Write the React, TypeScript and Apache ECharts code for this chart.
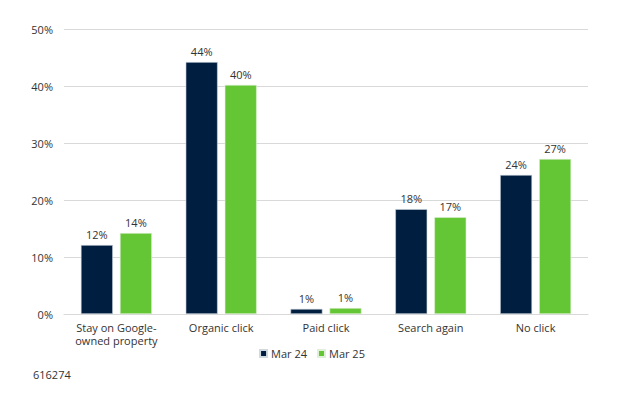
import React, { useEffect, useRef } from 'react';
import * as echarts from 'echarts';

const categories = [
  'Stay on Google-\nowned property',
  'Organic click',
  'Paid click',
  'Search again',
  'No click'
];
const mar24 = [12.1, 44.2, 0.9, 18.4, 24.4];
const mar25 = [14.2, 40.2, 1.05, 17.0, 27.2];
const mar24Labels = ['12%', '44%', '1%', '18%', '24%'];
const mar25Labels = ['14%', '40%', '1%', '17%', '27%'];

const FONT = '"Open Sans", "Noto Sans", sans-serif';
const TEXT = '#333333';

const App: React.FC = () => {
  const chartRef = useRef<HTMLDivElement>(null);

  useEffect(() => {
    document.body.style.margin = '0';
    if (!chartRef.current) return;
    const chart = echarts.init(chartRef.current, null, { renderer: 'svg' });

    const labelFor = (labels: string[]) => ({
      show: true,
      position: 'top',
      distance: 5,
      color: TEXT,
      fontSize: 11,
      fontFamily: FONT,
      formatter: (p: any) => labels[p.dataIndex]
    });

    chart.setOption({
      animation: false,
      textStyle: { fontFamily: FONT },
      grid: { left: 64, right: 36, top: 29, bottom: 91 },
      legend: {
        top: 348,
        left: 'center',
        padding: 0,
        itemWidth: 7,
        itemHeight: 7,
        itemGap: 10,
        icon: 'rect',
        textStyle: { color: TEXT, fontSize: 11, fontFamily: FONT, padding: [0, 0, 0, -1] },
        data: ['Mar 24', 'Mar 25']
      },
      xAxis: {
        type: 'category',
        data: categories,
        axisLine: { show: true, lineStyle: { color: '#d9d9d9' } },
        axisTick: { show: false },
        axisLabel: {
          color: TEXT,
          fontSize: 11,
          fontFamily: FONT,
          margin: 7,
          lineHeight: 13,
          interval: 0
        }
      },
      yAxis: {
        type: 'value',
        min: 0,
        max: 50,
        interval: 10,
        axisLine: { show: false },
        axisTick: { show: false },
        splitLine: { lineStyle: { color: '#d9d9d9' } },
        axisLabel: {
          color: TEXT,
          fontSize: 11,
          fontFamily: FONT,
          margin: 11,
          formatter: '{value}%'
        }
      },
      series: [
        {
          name: 'Mar 24',
          type: 'bar',
          data: mar24,
          barWidth: 32,
          barGap: '22%',
          itemStyle: { color: '#001F40', borderColor: '#d0d8e0', borderWidth: 0.6 },
          label: labelFor(mar24Labels)
        },
        {
          name: 'Mar 25',
          type: 'bar',
          data: mar25,
          barWidth: 32,
          itemStyle: { color: '#65C635', borderColor: '#e0f0d8', borderWidth: 0.6 },
          label: labelFor(mar25Labels)
        }
      ],
      graphic: [
        {
          type: 'text',
          left: 33,
          top: 369,
          style: { text: '616274', fill: TEXT, fontSize: 11, fontFamily: FONT }
        }
      ]
    });

    return () => {
      chart.dispose();
    };
  }, []);

  return <div ref={chartRef} style={{ width: 624, height: 405 }} />;
};

export default App;
